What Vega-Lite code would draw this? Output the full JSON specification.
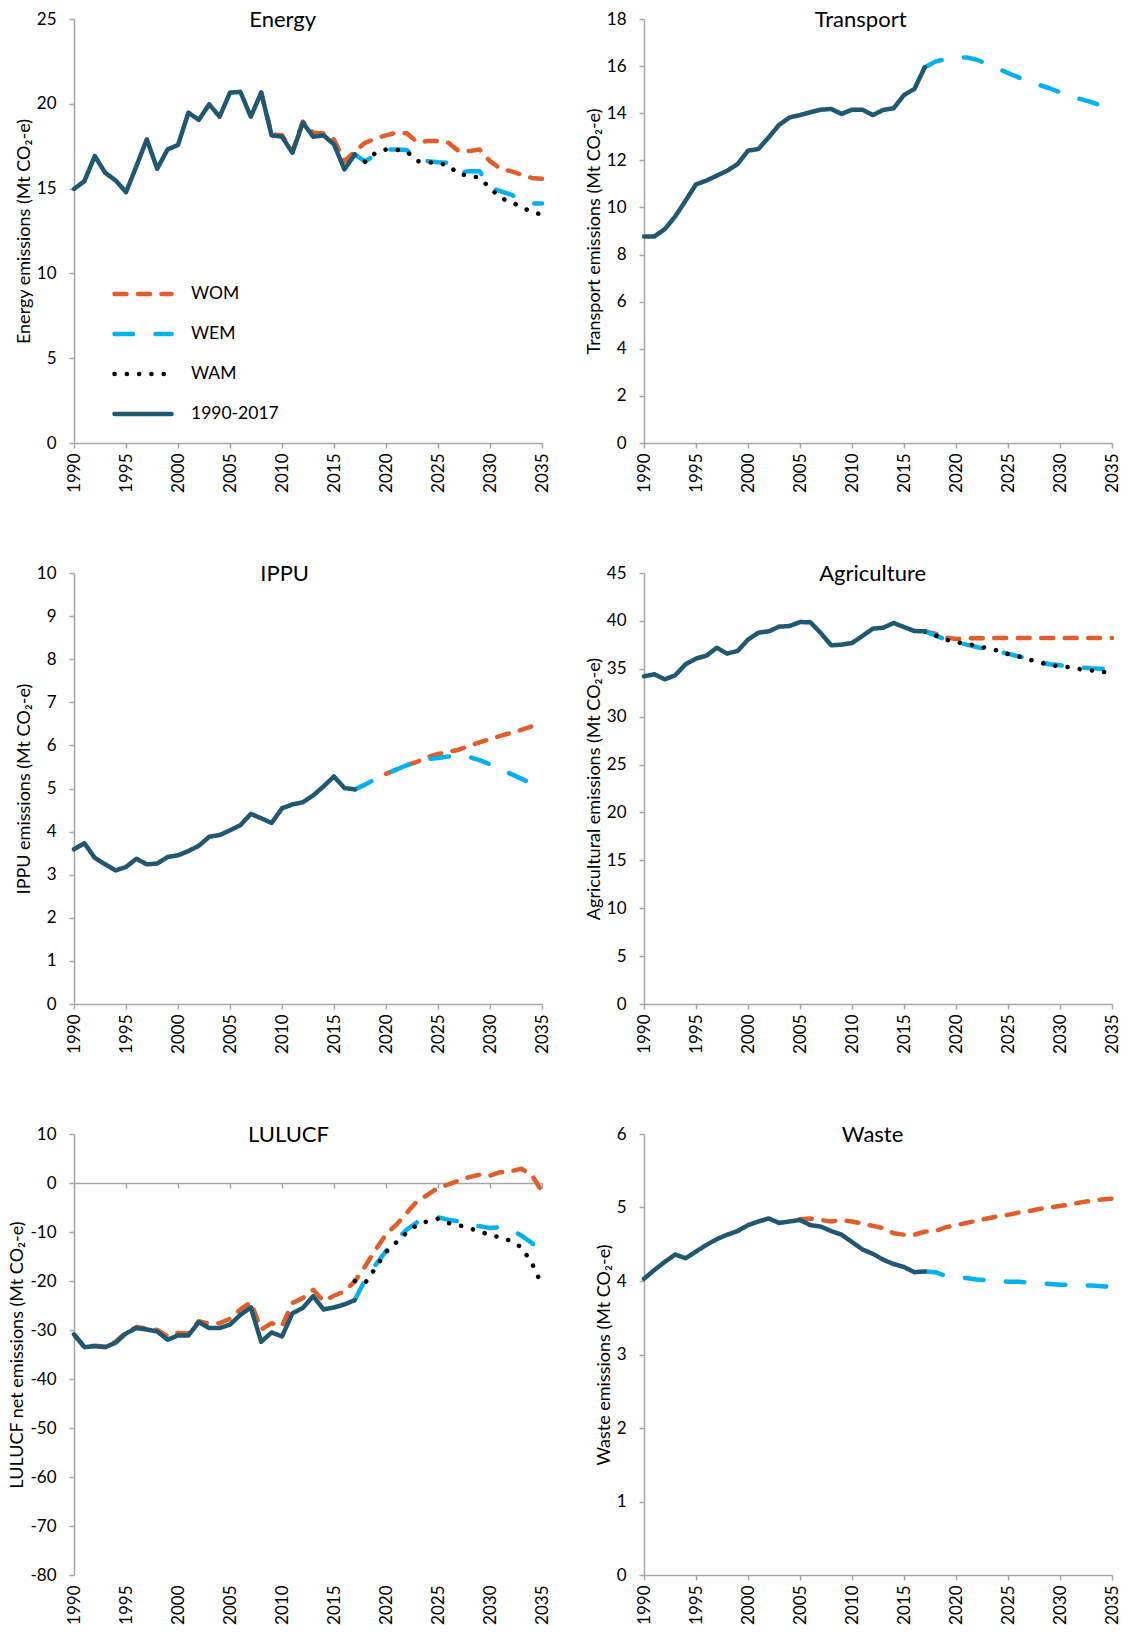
{
"$schema": "https://vega.github.io/schema/vega-lite/v6.json",
"padding": {"left": 8, "top": 9, "right": 5, "bottom": 3},
"config": {
 "font": "Lato",
 "view": {"stroke": null},
 "axis": {"grid": false, "domainColor": "#A6A6A6", "domainWidth": 1.5, "tickColor": "#A6A6A6", "tickWidth": 1.5, "tickSize": 5, "labelFontSize": 17, "labelColor": "#000000", "titleFontSize": 18, "titleFontWeight": "normal", "titleColor": "#000000", "labelFont": "Lato", "titleFont": "Lato"},
 "axisX": {"labelAngle": -90, "labelPadding": 5, "title": null},
 "axisY": {"labelPadding": 13, "titlePadding": 3},
 "title": {"fontSize": 22, "fontWeight": "normal", "color": "#000000", "anchor": "middle", "frame": "bounds", "offset": -22, "baseline": "alphabetic", "font": "Lato"},
 "line": {"strokeWidth": 4.5, "strokeCap": "round", "strokeJoin": "round"}
},
"resolve": {"scale": {"x": "independent", "y": "independent", "color": "independent", "strokeDash": "independent"}, "legend": {"color": "independent", "strokeDash": "independent"}},
"columns": 2,
"align": "each",
"spacing": {"row": 70, "column": 35},
"datasets": {
 "energy": [
  {"year":2008,"series":"WOM","value":20.66},{"year":2009,"series":"WOM","value":18.2},{"year":2010,"series":"WOM","value":18.15},{"year":2011,"series":"WOM","value":17.2},{"year":2012,"series":"WOM","value":18.95},{"year":2013,"series":"WOM","value":18.3},{"year":2014,"series":"WOM","value":18.25},{"year":2015,"series":"WOM","value":17.9},{"year":2016,"series":"WOM","value":16.6},{"year":2017,"series":"WOM","value":17.2},{"year":2018,"series":"WOM","value":17.7},{"year":2019,"series":"WOM","value":17.95},{"year":2020,"series":"WOM","value":18.14},{"year":2021,"series":"WOM","value":18.3},{"year":2022,"series":"WOM","value":18.26},{"year":2023,"series":"WOM","value":17.74},{"year":2024,"series":"WOM","value":17.8},{"year":2025,"series":"WOM","value":17.8},{"year":2026,"series":"WOM","value":17.7},{"year":2027,"series":"WOM","value":17.21},{"year":2028,"series":"WOM","value":17.21},{"year":2029,"series":"WOM","value":17.3},{"year":2030,"series":"WOM","value":16.62},{"year":2031,"series":"WOM","value":16.17},{"year":2032,"series":"WOM","value":16.03},{"year":2033,"series":"WOM","value":15.83},{"year":2034,"series":"WOM","value":15.63},{"year":2035,"series":"WOM","value":15.58},
  {"year":2017,"series":"WEM","value":17.01},{"year":2018,"series":"WEM","value":16.6},{"year":2019,"series":"WEM","value":17.0},{"year":2020,"series":"WEM","value":17.31},{"year":2021,"series":"WEM","value":17.31},{"year":2022,"series":"WEM","value":17.27},{"year":2023,"series":"WEM","value":16.72},{"year":2024,"series":"WEM","value":16.62},{"year":2025,"series":"WEM","value":16.56},{"year":2026,"series":"WEM","value":16.52},{"year":2027,"series":"WEM","value":15.93},{"year":2028,"series":"WEM","value":16.03},{"year":2029,"series":"WEM","value":16.03},{"year":2030,"series":"WEM","value":15.04},{"year":2031,"series":"WEM","value":14.85},{"year":2032,"series":"WEM","value":14.65},{"year":2033,"series":"WEM","value":14.35},{"year":2034,"series":"WEM","value":14.12},{"year":2035,"series":"WEM","value":14.12},
  {"year":2017,"series":"WAM","value":17.01},{"year":2018,"series":"WAM","value":16.58},{"year":2019,"series":"WAM","value":17.11},{"year":2020,"series":"WAM","value":17.31},{"year":2021,"series":"WAM","value":17.29},{"year":2022,"series":"WAM","value":17.19},{"year":2023,"series":"WAM","value":16.62},{"year":2024,"series":"WAM","value":16.56},{"year":2025,"series":"WAM","value":16.5},{"year":2026,"series":"WAM","value":16.38},{"year":2027,"series":"WAM","value":15.83},{"year":2028,"series":"WAM","value":15.79},{"year":2029,"series":"WAM","value":15.63},{"year":2030,"series":"WAM","value":15.04},{"year":2031,"series":"WAM","value":14.45},{"year":2032,"series":"WAM","value":14.22},{"year":2033,"series":"WAM","value":13.92},{"year":2034,"series":"WAM","value":13.62},{"year":2035,"series":"WAM","value":13.47},
  {"year":1990,"series":"1990-2017","value":14.98},{"year":1991,"series":"1990-2017","value":15.44},{"year":1992,"series":"1990-2017","value":16.92},{"year":1993,"series":"1990-2017","value":15.93},{"year":1994,"series":"1990-2017","value":15.48},{"year":1995,"series":"1990-2017","value":14.79},{"year":1996,"series":"1990-2017","value":16.32},{"year":1997,"series":"1990-2017","value":17.9},{"year":1998,"series":"1990-2017","value":16.17},{"year":1999,"series":"1990-2017","value":17.31},{"year":2000,"series":"1990-2017","value":17.57},{"year":2001,"series":"1990-2017","value":19.48},{"year":2002,"series":"1990-2017","value":19.05},{"year":2003,"series":"1990-2017","value":19.97},{"year":2004,"series":"1990-2017","value":19.24},{"year":2005,"series":"1990-2017","value":20.66},{"year":2006,"series":"1990-2017","value":20.7},{"year":2007,"series":"1990-2017","value":19.24},{"year":2008,"series":"1990-2017","value":20.66},{"year":2009,"series":"1990-2017","value":18.14},{"year":2010,"series":"1990-2017","value":18.06},{"year":2011,"series":"1990-2017","value":17.11},{"year":2012,"series":"1990-2017","value":18.89},{"year":2013,"series":"1990-2017","value":18.06},{"year":2014,"series":"1990-2017","value":18.14},{"year":2015,"series":"1990-2017","value":17.61},{"year":2016,"series":"1990-2017","value":16.13},{"year":2017,"series":"1990-2017","value":17.01}
 ],
 "transport": [
  {"year":2017,"series":"WEM","value":15.95},{"year":2018,"series":"WEM","value":16.19},{"year":2019,"series":"WEM","value":16.3},{"year":2020,"series":"WEM","value":16.37},{"year":2021,"series":"WEM","value":16.37},{"year":2022,"series":"WEM","value":16.27},{"year":2023,"series":"WEM","value":16.09},{"year":2024,"series":"WEM","value":15.9},{"year":2025,"series":"WEM","value":15.71},{"year":2026,"series":"WEM","value":15.52},{"year":2027,"series":"WEM","value":15.34},{"year":2028,"series":"WEM","value":15.2},{"year":2029,"series":"WEM","value":15.06},{"year":2030,"series":"WEM","value":14.89},{"year":2031,"series":"WEM","value":14.72},{"year":2032,"series":"WEM","value":14.6},{"year":2033,"series":"WEM","value":14.47},{"year":2034,"series":"WEM","value":14.32},{"year":2035,"series":"WEM","value":14.18},
  {"year":1990,"series":"1990-2017","value":8.77},{"year":1991,"series":"1990-2017","value":8.77},{"year":1992,"series":"1990-2017","value":9.08},{"year":1993,"series":"1990-2017","value":9.62},{"year":1994,"series":"1990-2017","value":10.29},{"year":1995,"series":"1990-2017","value":10.98},{"year":1996,"series":"1990-2017","value":11.14},{"year":1997,"series":"1990-2017","value":11.35},{"year":1998,"series":"1990-2017","value":11.56},{"year":1999,"series":"1990-2017","value":11.84},{"year":2000,"series":"1990-2017","value":12.41},{"year":2001,"series":"1990-2017","value":12.48},{"year":2002,"series":"1990-2017","value":12.98},{"year":2003,"series":"1990-2017","value":13.51},{"year":2004,"series":"1990-2017","value":13.82},{"year":2005,"series":"1990-2017","value":13.92},{"year":2006,"series":"1990-2017","value":14.04},{"year":2007,"series":"1990-2017","value":14.15},{"year":2008,"series":"1990-2017","value":14.18},{"year":2009,"series":"1990-2017","value":13.97},{"year":2010,"series":"1990-2017","value":14.15},{"year":2011,"series":"1990-2017","value":14.15},{"year":2012,"series":"1990-2017","value":13.92},{"year":2013,"series":"1990-2017","value":14.14},{"year":2014,"series":"1990-2017","value":14.21},{"year":2015,"series":"1990-2017","value":14.77},{"year":2016,"series":"1990-2017","value":15.03},{"year":2017,"series":"1990-2017","value":15.95}
 ],
 "ippu": [
  {"year":2020,"series":"WOM","value":5.34},{"year":2021,"series":"WOM","value":5.44},{"year":2022,"series":"WOM","value":5.54},{"year":2023,"series":"WOM","value":5.62},{"year":2024,"series":"WOM","value":5.73},{"year":2025,"series":"WOM","value":5.8},{"year":2026,"series":"WOM","value":5.85},{"year":2027,"series":"WOM","value":5.9},{"year":2028,"series":"WOM","value":5.99},{"year":2029,"series":"WOM","value":6.07},{"year":2030,"series":"WOM","value":6.15},{"year":2031,"series":"WOM","value":6.22},{"year":2032,"series":"WOM","value":6.29},{"year":2033,"series":"WOM","value":6.36},{"year":2034,"series":"WOM","value":6.44},{"year":2035,"series":"WOM","value":6.5},
  {"year":2017,"series":"WEM","value":4.98},{"year":2018,"series":"WEM","value":5.09},{"year":2019,"series":"WEM","value":5.23},{"year":2020,"series":"WEM","value":5.34},{"year":2021,"series":"WEM","value":5.44},{"year":2022,"series":"WEM","value":5.54},{"year":2023,"series":"WEM","value":5.62},{"year":2024,"series":"WEM","value":5.68},{"year":2025,"series":"WEM","value":5.71},{"year":2026,"series":"WEM","value":5.74},{"year":2027,"series":"WEM","value":5.76},{"year":2028,"series":"WEM","value":5.73},{"year":2029,"series":"WEM","value":5.66},{"year":2030,"series":"WEM","value":5.56},{"year":2031,"series":"WEM","value":5.44},{"year":2032,"series":"WEM","value":5.34},{"year":2033,"series":"WEM","value":5.23},{"year":2034,"series":"WEM","value":5.11},{"year":2035,"series":"WEM","value":5.0},
  {"year":1990,"series":"1990-2017","value":3.59},{"year":1991,"series":"1990-2017","value":3.73},{"year":1992,"series":"1990-2017","value":3.39},{"year":1993,"series":"1990-2017","value":3.24},{"year":1994,"series":"1990-2017","value":3.1},{"year":1995,"series":"1990-2017","value":3.18},{"year":1996,"series":"1990-2017","value":3.37},{"year":1997,"series":"1990-2017","value":3.24},{"year":1998,"series":"1990-2017","value":3.26},{"year":1999,"series":"1990-2017","value":3.41},{"year":2000,"series":"1990-2017","value":3.45},{"year":2001,"series":"1990-2017","value":3.55},{"year":2002,"series":"1990-2017","value":3.67},{"year":2003,"series":"1990-2017","value":3.88},{"year":2004,"series":"1990-2017","value":3.92},{"year":2005,"series":"1990-2017","value":4.03},{"year":2006,"series":"1990-2017","value":4.15},{"year":2007,"series":"1990-2017","value":4.41},{"year":2008,"series":"1990-2017","value":4.31},{"year":2009,"series":"1990-2017","value":4.2},{"year":2010,"series":"1990-2017","value":4.54},{"year":2011,"series":"1990-2017","value":4.63},{"year":2012,"series":"1990-2017","value":4.68},{"year":2013,"series":"1990-2017","value":4.84},{"year":2014,"series":"1990-2017","value":5.05},{"year":2015,"series":"1990-2017","value":5.28},{"year":2016,"series":"1990-2017","value":5.01},{"year":2017,"series":"1990-2017","value":4.98}
 ],
 "agri": [
  {"year":2017,"series":"WOM","value":38.91},{"year":2018,"series":"WOM","value":38.66},{"year":2019,"series":"WOM","value":38.25},{"year":2020,"series":"WOM","value":38.12},{"year":2021,"series":"WOM","value":38.18},{"year":2022,"series":"WOM","value":38.2},{"year":2023,"series":"WOM","value":38.2},{"year":2024,"series":"WOM","value":38.21},{"year":2025,"series":"WOM","value":38.21},{"year":2026,"series":"WOM","value":38.21},{"year":2027,"series":"WOM","value":38.21},{"year":2028,"series":"WOM","value":38.21},{"year":2029,"series":"WOM","value":38.21},{"year":2030,"series":"WOM","value":38.22},{"year":2031,"series":"WOM","value":38.22},{"year":2032,"series":"WOM","value":38.22},{"year":2033,"series":"WOM","value":38.22},{"year":2034,"series":"WOM","value":38.22},{"year":2035,"series":"WOM","value":38.22},
  {"year":2017,"series":"WEM","value":38.91},{"year":2018,"series":"WEM","value":38.49},{"year":2019,"series":"WEM","value":38.04},{"year":2020,"series":"WEM","value":37.8},{"year":2021,"series":"WEM","value":37.52},{"year":2022,"series":"WEM","value":37.27},{"year":2023,"series":"WEM","value":37.03},{"year":2024,"series":"WEM","value":36.79},{"year":2025,"series":"WEM","value":36.58},{"year":2026,"series":"WEM","value":36.3},{"year":2027,"series":"WEM","value":36.02},{"year":2028,"series":"WEM","value":35.74},{"year":2029,"series":"WEM","value":35.47},{"year":2030,"series":"WEM","value":35.36},{"year":2031,"series":"WEM","value":35.26},{"year":2032,"series":"WEM","value":35.12},{"year":2033,"series":"WEM","value":35.05},{"year":2034,"series":"WEM","value":35.01},{"year":2035,"series":"WEM","value":34.94},
  {"year":2017,"series":"WAM","value":38.91},{"year":2018,"series":"WAM","value":38.49},{"year":2019,"series":"WAM","value":38.04},{"year":2020,"series":"WAM","value":37.8},{"year":2021,"series":"WAM","value":37.59},{"year":2022,"series":"WAM","value":37.41},{"year":2023,"series":"WAM","value":37.13},{"year":2024,"series":"WAM","value":36.89},{"year":2025,"series":"WAM","value":36.54},{"year":2026,"series":"WAM","value":36.3},{"year":2027,"series":"WAM","value":35.99},{"year":2028,"series":"WAM","value":35.64},{"year":2029,"series":"WAM","value":35.4},{"year":2030,"series":"WAM","value":35.26},{"year":2031,"series":"WAM","value":35.15},{"year":2032,"series":"WAM","value":34.94},{"year":2033,"series":"WAM","value":34.84},{"year":2034,"series":"WAM","value":34.7},{"year":2035,"series":"WAM","value":34.56},
  {"year":1990,"series":"1990-2017","value":34.21},{"year":1991,"series":"1990-2017","value":34.42},{"year":1992,"series":"1990-2017","value":33.9},{"year":1993,"series":"1990-2017","value":34.32},{"year":1994,"series":"1990-2017","value":35.47},{"year":1995,"series":"1990-2017","value":36.06},{"year":1996,"series":"1990-2017","value":36.37},{"year":1997,"series":"1990-2017","value":37.2},{"year":1998,"series":"1990-2017","value":36.58},{"year":1999,"series":"1990-2017","value":36.86},{"year":2000,"series":"1990-2017","value":38.04},{"year":2001,"series":"1990-2017","value":38.77},{"year":2002,"series":"1990-2017","value":38.91},{"year":2003,"series":"1990-2017","value":39.4},{"year":2004,"series":"1990-2017","value":39.46},{"year":2005,"series":"1990-2017","value":39.88},{"year":2006,"series":"1990-2017","value":39.85},{"year":2007,"series":"1990-2017","value":38.73},{"year":2008,"series":"1990-2017","value":37.45},{"year":2009,"series":"1990-2017","value":37.52},{"year":2010,"series":"1990-2017","value":37.69},{"year":2011,"series":"1990-2017","value":38.42},{"year":2012,"series":"1990-2017","value":39.19},{"year":2013,"series":"1990-2017","value":39.29},{"year":2014,"series":"1990-2017","value":39.78},{"year":2015,"series":"1990-2017","value":39.36},{"year":2016,"series":"1990-2017","value":38.94},{"year":2017,"series":"1990-2017","value":38.91}
 ],
 "lulucf": [
  {"year":1990,"series":"WOM","value":-30.9},{"year":1991,"series":"WOM","value":-33.4},{"year":1992,"series":"WOM","value":-33.2},{"year":1993,"series":"WOM","value":-33.4},{"year":1994,"series":"WOM","value":-32.4},{"year":1995,"series":"WOM","value":-30.5},{"year":1996,"series":"WOM","value":-29.4},{"year":1997,"series":"WOM","value":-29.7},{"year":1998,"series":"WOM","value":-30.0},{"year":1999,"series":"WOM","value":-31.3},{"year":2000,"series":"WOM","value":-30.6},{"year":2001,"series":"WOM","value":-30.7},{"year":2002,"series":"WOM","value":-28.2},{"year":2003,"series":"WOM","value":-28.7},{"year":2004,"series":"WOM","value":-28.6},{"year":2005,"series":"WOM","value":-27.7},{"year":2006,"series":"WOM","value":-25.8},{"year":2007,"series":"WOM","value":-24.3},{"year":2008,"series":"WOM","value":-29.9},{"year":2009,"series":"WOM","value":-28.6},{"year":2010,"series":"WOM","value":-29.2},{"year":2011,"series":"WOM","value":-24.5},{"year":2012,"series":"WOM","value":-23.5},{"year":2013,"series":"WOM","value":-21.8},{"year":2014,"series":"WOM","value":-24.1},{"year":2015,"series":"WOM","value":-23.0},{"year":2016,"series":"WOM","value":-22.1},{"year":2017,"series":"WOM","value":-20.1},{"year":2018,"series":"WOM","value":-17.0},{"year":2019,"series":"WOM","value":-13.6},{"year":2020,"series":"WOM","value":-10.5},{"year":2021,"series":"WOM","value":-8.5},{"year":2022,"series":"WOM","value":-6.1},{"year":2023,"series":"WOM","value":-3.7},{"year":2024,"series":"WOM","value":-2.4},{"year":2025,"series":"WOM","value":-1.0},{"year":2026,"series":"WOM","value":-0.3},{"year":2027,"series":"WOM","value":0.5},{"year":2028,"series":"WOM","value":1.2},{"year":2029,"series":"WOM","value":1.7},{"year":2030,"series":"WOM","value":1.5},{"year":2031,"series":"WOM","value":2.2},{"year":2032,"series":"WOM","value":2.4},{"year":2033,"series":"WOM","value":2.9},{"year":2034,"series":"WOM","value":1.7},{"year":2035,"series":"WOM","value":-1.7},
  {"year":2017,"series":"WEM","value":-23.9},{"year":2018,"series":"WEM","value":-19.7},{"year":2019,"series":"WEM","value":-16.7},{"year":2020,"series":"WEM","value":-13.9},{"year":2021,"series":"WEM","value":-11.6},{"year":2022,"series":"WEM","value":-9.5},{"year":2023,"series":"WEM","value":-8.0},{"year":2024,"series":"WEM","value":-7.3},{"year":2025,"series":"WEM","value":-7.0},{"year":2026,"series":"WEM","value":-7.5},{"year":2027,"series":"WEM","value":-7.8},{"year":2028,"series":"WEM","value":-8.5},{"year":2029,"series":"WEM","value":-8.8},{"year":2030,"series":"WEM","value":-9.2},{"year":2031,"series":"WEM","value":-9.0},{"year":2032,"series":"WEM","value":-9.5},{"year":2033,"series":"WEM","value":-10.7},{"year":2034,"series":"WEM","value":-12.2},{"year":2035,"series":"WEM","value":-14.3},
  {"year":2017,"series":"WAM","value":-20.0},{"year":2018,"series":"WAM","value":-20.4},{"year":2019,"series":"WAM","value":-17.3},{"year":2020,"series":"WAM","value":-14.1},{"year":2021,"series":"WAM","value":-12.1},{"year":2022,"series":"WAM","value":-10.1},{"year":2023,"series":"WAM","value":-8.5},{"year":2024,"series":"WAM","value":-7.8},{"year":2025,"series":"WAM","value":-7.3},{"year":2026,"series":"WAM","value":-8.2},{"year":2027,"series":"WAM","value":-8.6},{"year":2028,"series":"WAM","value":-9.2},{"year":2029,"series":"WAM","value":-9.9},{"year":2030,"series":"WAM","value":-10.6},{"year":2031,"series":"WAM","value":-11.1},{"year":2032,"series":"WAM","value":-11.8},{"year":2033,"series":"WAM","value":-13.1},{"year":2034,"series":"WAM","value":-16.2},{"year":2035,"series":"WAM","value":-20.9},
  {"year":1990,"series":"1990-2017","value":-30.9},{"year":1991,"series":"1990-2017","value":-33.5},{"year":1992,"series":"1990-2017","value":-33.3},{"year":1993,"series":"1990-2017","value":-33.5},{"year":1994,"series":"1990-2017","value":-32.6},{"year":1995,"series":"1990-2017","value":-30.7},{"year":1996,"series":"1990-2017","value":-29.6},{"year":1997,"series":"1990-2017","value":-29.9},{"year":1998,"series":"1990-2017","value":-30.3},{"year":1999,"series":"1990-2017","value":-32.0},{"year":2000,"series":"1990-2017","value":-31.1},{"year":2001,"series":"1990-2017","value":-31.1},{"year":2002,"series":"1990-2017","value":-28.4},{"year":2003,"series":"1990-2017","value":-29.6},{"year":2004,"series":"1990-2017","value":-29.6},{"year":2005,"series":"1990-2017","value":-28.9},{"year":2006,"series":"1990-2017","value":-26.9},{"year":2007,"series":"1990-2017","value":-25.4},{"year":2008,"series":"1990-2017","value":-32.4},{"year":2009,"series":"1990-2017","value":-30.5},{"year":2010,"series":"1990-2017","value":-31.3},{"year":2011,"series":"1990-2017","value":-26.6},{"year":2012,"series":"1990-2017","value":-25.5},{"year":2013,"series":"1990-2017","value":-23.1},{"year":2014,"series":"1990-2017","value":-25.8},{"year":2015,"series":"1990-2017","value":-25.4},{"year":2016,"series":"1990-2017","value":-24.8},{"year":2017,"series":"1990-2017","value":-23.9}
 ],
 "waste": [
  {"year":2005,"series":"WOM","value":4.84},{"year":2006,"series":"WOM","value":4.85},{"year":2007,"series":"WOM","value":4.83},{"year":2008,"series":"WOM","value":4.81},{"year":2009,"series":"WOM","value":4.83},{"year":2010,"series":"WOM","value":4.81},{"year":2011,"series":"WOM","value":4.78},{"year":2012,"series":"WOM","value":4.75},{"year":2013,"series":"WOM","value":4.72},{"year":2014,"series":"WOM","value":4.65},{"year":2015,"series":"WOM","value":4.63},{"year":2016,"series":"WOM","value":4.63},{"year":2017,"series":"WOM","value":4.67},{"year":2018,"series":"WOM","value":4.68},{"year":2019,"series":"WOM","value":4.73},{"year":2020,"series":"WOM","value":4.76},{"year":2021,"series":"WOM","value":4.79},{"year":2022,"series":"WOM","value":4.82},{"year":2023,"series":"WOM","value":4.85},{"year":2024,"series":"WOM","value":4.88},{"year":2025,"series":"WOM","value":4.9},{"year":2026,"series":"WOM","value":4.93},{"year":2027,"series":"WOM","value":4.95},{"year":2028,"series":"WOM","value":4.98},{"year":2029,"series":"WOM","value":5.0},{"year":2030,"series":"WOM","value":5.02},{"year":2031,"series":"WOM","value":5.04},{"year":2032,"series":"WOM","value":5.07},{"year":2033,"series":"WOM","value":5.09},{"year":2034,"series":"WOM","value":5.11},{"year":2035,"series":"WOM","value":5.12},
  {"year":2017,"series":"WEM","value":4.13},{"year":2018,"series":"WEM","value":4.12},{"year":2019,"series":"WEM","value":4.07},{"year":2020,"series":"WEM","value":4.06},{"year":2021,"series":"WEM","value":4.04},{"year":2022,"series":"WEM","value":4.02},{"year":2023,"series":"WEM","value":4.01},{"year":2024,"series":"WEM","value":4.0},{"year":2025,"series":"WEM","value":3.99},{"year":2026,"series":"WEM","value":3.99},{"year":2027,"series":"WEM","value":3.98},{"year":2028,"series":"WEM","value":3.97},{"year":2029,"series":"WEM","value":3.96},{"year":2030,"series":"WEM","value":3.95},{"year":2031,"series":"WEM","value":3.95},{"year":2032,"series":"WEM","value":3.94},{"year":2033,"series":"WEM","value":3.94},{"year":2034,"series":"WEM","value":3.93},{"year":2035,"series":"WEM","value":3.92},
  {"year":1990,"series":"1990-2017","value":4.03},{"year":1991,"series":"1990-2017","value":4.15},{"year":1992,"series":"1990-2017","value":4.26},{"year":1993,"series":"1990-2017","value":4.36},{"year":1994,"series":"1990-2017","value":4.31},{"year":1995,"series":"1990-2017","value":4.4},{"year":1996,"series":"1990-2017","value":4.49},{"year":1997,"series":"1990-2017","value":4.57},{"year":1998,"series":"1990-2017","value":4.63},{"year":1999,"series":"1990-2017","value":4.68},{"year":2000,"series":"1990-2017","value":4.76},{"year":2001,"series":"1990-2017","value":4.81},{"year":2002,"series":"1990-2017","value":4.85},{"year":2003,"series":"1990-2017","value":4.79},{"year":2004,"series":"1990-2017","value":4.81},{"year":2005,"series":"1990-2017","value":4.83},{"year":2006,"series":"1990-2017","value":4.76},{"year":2007,"series":"1990-2017","value":4.74},{"year":2008,"series":"1990-2017","value":4.68},{"year":2009,"series":"1990-2017","value":4.63},{"year":2010,"series":"1990-2017","value":4.53},{"year":2011,"series":"1990-2017","value":4.43},{"year":2012,"series":"1990-2017","value":4.37},{"year":2013,"series":"1990-2017","value":4.29},{"year":2014,"series":"1990-2017","value":4.23},{"year":2015,"series":"1990-2017","value":4.19},{"year":2016,"series":"1990-2017","value":4.12},{"year":2017,"series":"1990-2017","value":4.13}
 ]
},
"concat": [
 {"width": 468, "height": 424, "title": {"text": "Energy"}, "data": {"name": "energy"}, "mark": "line",
  "encoding": {
   "x": {"field": "year", "type": "quantitative", "scale": {"domain": [1990, 2035], "nice": false, "zero": false}, "axis": {"values": [1990,1995,2000,2005,2010,2015,2020,2025,2030,2035], "format": "d"}},
   "y": {"field": "value", "type": "quantitative", "scale": {"domain": [0, 25], "nice": false}, "axis": {"values": [0,5,10,15,20,25], "title": "Energy emissions (Mt CO₂-e)"}},
   "color": {"field": "series", "type": "nominal", "sort": null, "scale": {"domain": ["WOM","WEM","WAM","1990-2017"], "range": ["#E15E2A","#00B0F0","#000000","#1F5870"]},
    "legend": {"title": null, "orient": "none", "legendX": 38, "legendY": 244, "symbolType": "stroke", "symbolSize": 3249, "symbolStrokeWidth": 4.5, "labelFontSize": 17.5, "labelOffset": 17, "rowPadding": -2.5, "labelColor": "#000000", "labelFont": "Lato", "encoding": {"symbols": {"strokeCap": {"value": "round"}}}}},
   "strokeDash": {"field": "series", "type": "nominal", "sort": null, "scale": {"domain": ["WOM","WEM","WAM","1990-2017"], "range": [[12,11.5],[18.5,22.5],[0.1,12.2],[1,0]]},
    "legend": {"title": null, "orient": "none", "legendX": 38, "legendY": 244, "symbolType": "stroke", "symbolSize": 3249, "symbolStrokeWidth": 4.5, "labelFontSize": 17.5, "labelOffset": 17, "rowPadding": -2.5, "labelColor": "#000000", "labelFont": "Lato", "encoding": {"symbols": {"strokeCap": {"value": "round"}}}}}
  }},
 {"width": 468, "height": 424, "title": {"text": "Transport", "dx": 8}, "data": {"name": "transport"}, "mark": "line",
  "encoding": {
   "x": {"field": "year", "type": "quantitative", "scale": {"domain": [1990, 2035], "nice": false, "zero": false}, "axis": {"values": [1990,1995,2000,2005,2010,2015,2020,2025,2030,2035], "format": "d"}},
   "y": {"field": "value", "type": "quantitative", "scale": {"domain": [0, 18], "nice": false}, "axis": {"values": [0,2,4,6,8,10,12,14,16,18], "title": "Transport emissions (Mt CO₂-e)"}},
   "color": {"field": "series", "type": "nominal", "sort": null, "scale": {"domain": ["WOM","WEM","WAM","1990-2017"], "range": ["#E15E2A","#00B0F0","#000000","#1F5870"]}, "legend": null},
   "strokeDash": {"field": "series", "type": "nominal", "sort": null, "scale": {"domain": ["WOM","WEM","WAM","1990-2017"], "range": [[12,11.5],[18.5,22.5],[0.1,12.2],[1,0]]}, "legend": null}
  }},
 {"width": 468, "height": 431, "title": {"text": "IPPU", "dx": 2}, "data": {"name": "ippu"}, "mark": "line",
  "encoding": {
   "x": {"field": "year", "type": "quantitative", "scale": {"domain": [1990, 2035], "nice": false, "zero": false}, "axis": {"values": [1990,1995,2000,2005,2010,2015,2020,2025,2030,2035], "format": "d"}},
   "y": {"field": "value", "type": "quantitative", "scale": {"domain": [0, 10], "nice": false}, "axis": {"values": [0,1,2,3,4,5,6,7,8,9,10], "title": "IPPU emissions (Mt CO₂-e)"}},
   "color": {"field": "series", "type": "nominal", "sort": null, "scale": {"domain": ["WOM","WEM","WAM","1990-2017"], "range": ["#E15E2A","#00B0F0","#000000","#1F5870"]}, "legend": null},
   "strokeDash": {"field": "series", "type": "nominal", "sort": null, "scale": {"domain": ["WOM","WEM","WAM","1990-2017"], "range": [[12,11.5],[18.5,22.5],[0.1,12.2],[1,0]]}, "legend": null}
  }},
 {"width": 468, "height": 431, "title": {"text": "Agriculture", "dx": 20}, "data": {"name": "agri"}, "mark": "line",
  "encoding": {
   "x": {"field": "year", "type": "quantitative", "scale": {"domain": [1990, 2035], "nice": false, "zero": false}, "axis": {"values": [1990,1995,2000,2005,2010,2015,2020,2025,2030,2035], "format": "d"}},
   "y": {"field": "value", "type": "quantitative", "scale": {"domain": [0, 45], "nice": false}, "axis": {"values": [0,5,10,15,20,25,30,35,40,45], "title": "Agricultural emissions (Mt CO₂-e)"}},
   "color": {"field": "series", "type": "nominal", "sort": null, "scale": {"domain": ["WOM","WEM","WAM","1990-2017"], "range": ["#E15E2A","#00B0F0","#000000","#1F5870"]}, "legend": null},
   "strokeDash": {"field": "series", "type": "nominal", "sort": null, "scale": {"domain": ["WOM","WEM","WAM","1990-2017"], "range": [[12,11.5],[18.5,22.5],[0.1,12.2],[1,0]]}, "legend": null}
  }},
 {"width": 468, "height": 441, "title": {"text": "LULUCF", "dx": 9}, "data": {"name": "lulucf"}, "mark": "line",
  "encoding": {
   "x": {"field": "year", "type": "quantitative", "scale": {"domain": [1990, 2035], "nice": false, "zero": false}, "axis": {"values": [1990,1995,2000,2005,2010,2015,2020,2025,2030,2035], "format": "d", "offset": -392, "labelPadding": 397}},
   "y": {"field": "value", "type": "quantitative", "scale": {"domain": [-80, 10], "nice": false}, "axis": {"values": [-80,-70,-60,-50,-40,-30,-20,-10,0,10], "labelExpr": "'' + datum.value", "title": "LULUCF net emissions (Mt CO₂-e)"}},
   "color": {"field": "series", "type": "nominal", "sort": null, "scale": {"domain": ["WOM","WEM","WAM","1990-2017"], "range": ["#E15E2A","#00B0F0","#000000","#1F5870"]}, "legend": null},
   "strokeDash": {"field": "series", "type": "nominal", "sort": null, "scale": {"domain": ["WOM","WEM","WAM","1990-2017"], "range": [[12,11.5],[18.5,22.5],[0.1,12.2],[1,0]]}, "legend": null}
  }},
 {"width": 468, "height": 441, "title": {"text": "Waste", "dx": 15}, "data": {"name": "waste"}, "mark": "line",
  "encoding": {
   "x": {"field": "year", "type": "quantitative", "scale": {"domain": [1990, 2035], "nice": false, "zero": false}, "axis": {"values": [1990,1995,2000,2005,2010,2015,2020,2025,2030,2035], "format": "d"}},
   "y": {"field": "value", "type": "quantitative", "scale": {"domain": [0, 6], "nice": false}, "axis": {"values": [0,1,2,3,4,5,6], "title": "Waste emissions (Mt CO₂-e)"}},
   "color": {"field": "series", "type": "nominal", "sort": null, "scale": {"domain": ["WOM","WEM","WAM","1990-2017"], "range": ["#E15E2A","#00B0F0","#000000","#1F5870"]}, "legend": null},
   "strokeDash": {"field": "series", "type": "nominal", "sort": null, "scale": {"domain": ["WOM","WEM","WAM","1990-2017"], "range": [[12,11.5],[18.5,22.5],[0.1,12.2],[1,0]]}, "legend": null}
  }}
]
}
